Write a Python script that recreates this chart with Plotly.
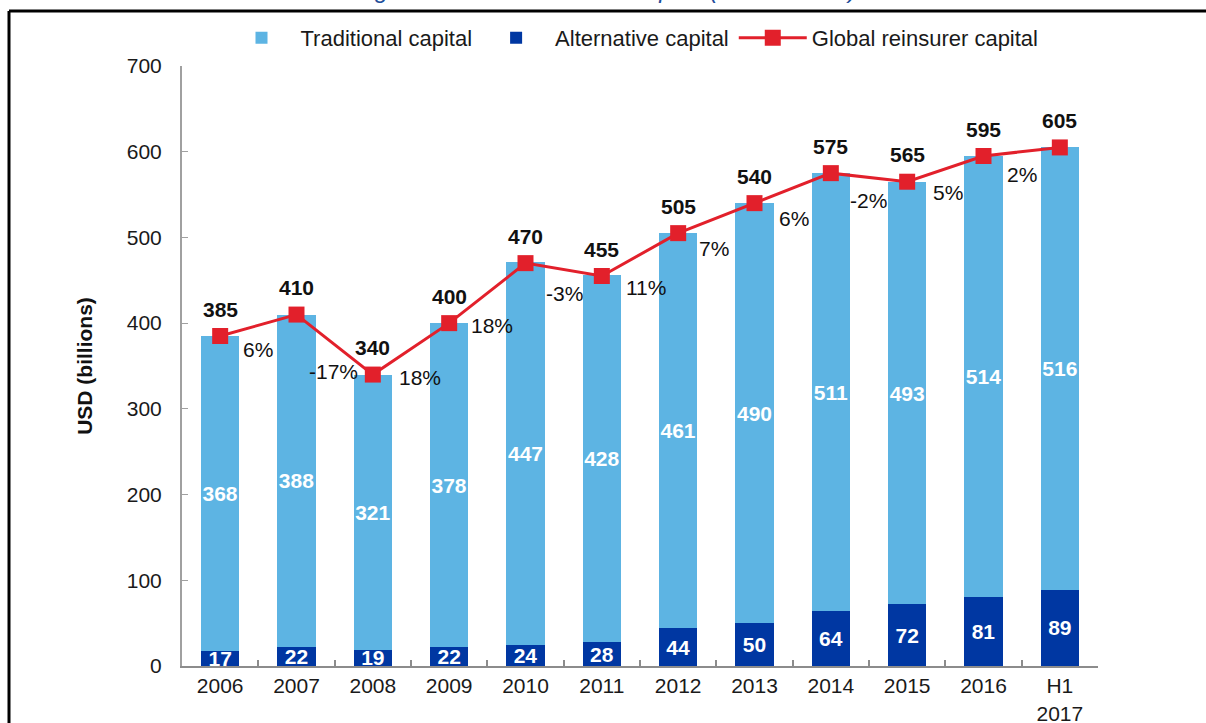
import plotly.graph_objects as go

categories = ["2006", "2007", "2008", "2009", "2010", "2011", "2012", "2013",
              "2014", "2015", "2016", "H1<br>2017"]
traditional = [368, 388, 321, 378, 447, 428, 461, 490, 511, 493, 514, 516]
alternative = [17, 22, 19, 22, 24, 28, 44, 50, 64, 72, 81, 89]
total = [385, 410, 340, 400, 470, 455, 505, 540, 575, 565, 595, 605]
growth = ["6%", "-17%", "18%", "18%", "-3%", "11%", "7%", "6%", "-2%", "5%", "2%"]
y_ticks = [0, 100, 200, 300, 400, 500, 600, 700]

# label offsets (pixels) for growth labels, relative to each point
growth_dx = [21, 10, 24, 20, 18, 22, 19, 22, 17, 24, 21]
growth_dy = [-13, -57, -3, -2, -30, -11, -15, -15, -27, -11, -18]

FONT = "Liberation Sans, Arial, sans-serif"
LIGHT = "#5DB4E3"
DARK = "#0037A2"
RED = "#E2202B"
FS = 21

fig = go.Figure()
fig.add_trace(go.Bar(
    x=categories, y=alternative, name="Alternative capital",
    marker=dict(color=DARK, line=dict(width=0)),
    text=[str(v) for v in alternative], textposition="inside",
    insidetextanchor="middle", textangle=0,
    textfont=dict(color="white", size=FS, family=FONT, weight="bold"),
    showlegend=True, legendrank=2,
))
fig.add_trace(go.Bar(
    x=categories, y=traditional, name="Traditional capital",
    marker=dict(color=LIGHT, line=dict(width=0)),
    text=[str(v) for v in traditional], textposition="inside",
    insidetextanchor="middle", textangle=0,
    textfont=dict(color="white", size=FS, family=FONT, weight="bold"),
    legendrank=1,
))
fig.add_trace(go.Scatter(
    x=categories, y=total, name="Global reinsurer capital",
    mode="lines+markers",
    line=dict(color=RED, width=3),
    marker=dict(color=RED, symbol="square", size=16),
    legendrank=3,
))

annotations = []
# category axis: annotation x uses category index
for i, t in enumerate(total):
    annotations.append(dict(
        x=i, y=t, xref="x", yref="y", text=str(t), showarrow=False,
        yshift=27, font=dict(size=FS, family=FONT, color="#111", weight="bold"),
    ))
for i, g in enumerate(growth):
    annotations.append(dict(
        x=i, y=total[i], xref="x", yref="y", text=g, showarrow=False,
        xanchor="left", xshift=growth_dx[i], yshift=growth_dy[i],
        font=dict(size=FS, family=FONT, color="#111"),
    ))
# partially visible title at the very top
annotations.append(dict(
    x=(606 - 182) / 916, y=(666 - 4) / 600, xref="paper", yref="paper",
    text="<i>Figure 2: Global reinsurer capital (USD billions)</i>",
    showarrow=False, xanchor="center", yanchor="bottom", borderpad=0,
    font=dict(size=24, family=FONT, color="#1F4E9A"),
))

shapes = [
    dict(type="line", xref="paper", yref="paper",
         x0=(9 - 182) / 916, x1=(1220 - 182) / 916,
         y0=(666 - 11) / 600, y1=(666 - 11) / 600,
         line=dict(color="black", width=3)),
    dict(type="line", xref="paper", yref="paper",
         x0=(9 - 182) / 916, x1=(9 - 182) / 916,
         y0=(666 - 11) / 600, y1=(666 - 740) / 600,
         line=dict(color="black", width=3)),
]

fig.update_layout(
    width=1206, height=723,
    margin=dict(l=182, r=108, t=66, b=57, autoexpand=False),
    paper_bgcolor="white", plot_bgcolor="white",
    barmode="stack", bargap=0.5,
    font=dict(family=FONT, size=FS, color="#1a1a1a"),
    uniformtext=dict(minsize=FS, mode="show"),
    legend=dict(orientation="h", x=(633 - 182) / 916, xanchor="center",
                y=(666 - 38) / 600, yanchor="middle",
                font=dict(size=22, family=FONT, color="#1a1a1a"),
                traceorder="normal", itemwidth=68, bgcolor="rgba(0,0,0,0)"),
    xaxis=dict(type="category", range=[-0.5, len(categories) - 0.5],
               showline=True, linecolor="#8c8c8c", linewidth=2,
               ticks="inside", tickson="boundaries", ticklen=6,
               tickcolor="#8c8c8c", tickwidth=1.5,
               tickfont=dict(size=FS, family=FONT, color="#1a1a1a"),
               showgrid=False, zeroline=False),
    yaxis=dict(range=[0, 700], tickvals=y_ticks,
               showline=True, linecolor="#a0a0a0", linewidth=2,
               ticks="inside", ticklen=6, tickcolor="#a0a0a0",
               tickfont=dict(size=FS, family=FONT, color="#1a1a1a"),
               ticklabelstandoff=14,
               showgrid=False, zeroline=False,
               title=dict(text="<b>USD (billions)</b>", standoff=28,
                          font=dict(size=FS, family=FONT, color="#111"))),
    annotations=annotations, shapes=shapes,
)

fig.write_html("out.html", config={"displayModeBar": False},
               post_script="document.body.style.margin='0';document.body.style.overflow='hidden';")
